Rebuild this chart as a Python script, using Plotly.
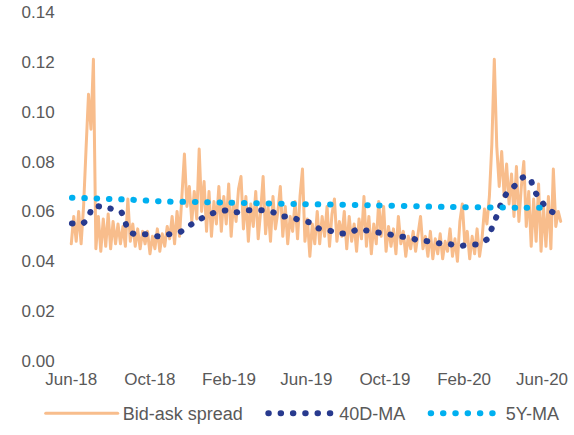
import pandas as pd
import plotly.graph_objects as go

# Bid-ask spread (daily, sampled evenly between start and end)
spread_start = "2018-06-01"
spread_end = "2020-06-30"
spread = [
    0.047, 0.058, 0.048, 0.060, 0.047, 0.062, 0.085, 0.107, 0.093, 0.121,
    0.045, 0.058, 0.044, 0.057, 0.046, 0.059, 0.045, 0.056, 0.047, 0.055,
    0.047, 0.054, 0.046, 0.065, 0.048, 0.055, 0.046, 0.053, 0.045, 0.052,
    0.047, 0.052, 0.043, 0.050, 0.045, 0.053, 0.044, 0.051, 0.046, 0.054,
    0.049, 0.058, 0.047, 0.060, 0.050, 0.066, 0.083, 0.062, 0.070, 0.056,
    0.068, 0.057, 0.085, 0.060, 0.072, 0.052, 0.068, 0.050, 0.064, 0.055,
    0.070, 0.052, 0.066, 0.055, 0.071, 0.050, 0.064, 0.056, 0.069, 0.074,
    0.053, 0.066, 0.048, 0.063, 0.054, 0.068, 0.049, 0.060, 0.074, 0.051,
    0.062, 0.048, 0.066, 0.053, 0.060, 0.070, 0.050, 0.062, 0.047, 0.058,
    0.052, 0.064, 0.049, 0.066, 0.077, 0.048, 0.057, 0.042, 0.055, 0.047,
    0.060, 0.047, 0.058, 0.050, 0.062, 0.046, 0.059, 0.065, 0.048, 0.056,
    0.050, 0.060, 0.045, 0.058, 0.048, 0.055, 0.044, 0.057, 0.049, 0.066,
    0.046, 0.058, 0.043, 0.055, 0.047, 0.064, 0.050, 0.062, 0.044, 0.054,
    0.046, 0.053, 0.043, 0.058, 0.047, 0.052, 0.042, 0.050, 0.045, 0.052,
    0.044, 0.051, 0.058, 0.045, 0.050, 0.042, 0.052, 0.041, 0.049, 0.043,
    0.051, 0.041, 0.048, 0.044, 0.053, 0.042, 0.049, 0.040, 0.056, 0.063,
    0.047, 0.052, 0.041, 0.050, 0.043, 0.053, 0.042, 0.049, 0.061, 0.055,
    0.066, 0.087, 0.121, 0.086, 0.070, 0.084, 0.066, 0.079, 0.063, 0.075,
    0.058, 0.078, 0.056, 0.070, 0.080, 0.054, 0.068, 0.046, 0.065, 0.048,
    0.071, 0.044, 0.062, 0.046, 0.066, 0.045, 0.077, 0.054, 0.060, 0.056,
]

# 40-day moving average
ma40_dates = [
    "2018-06-02", "2018-06-19", "2018-06-28", "2018-07-04", "2018-07-15",
    "2018-07-31", "2018-08-17", "2018-08-23", "2018-08-29", "2018-09-09",
    "2018-09-26", "2018-10-15", "2018-10-30", "2018-11-16", "2018-11-30",
    "2018-12-14", "2018-12-30", "2019-01-14", "2019-01-28", "2019-02-11",
    "2019-02-27", "2019-03-14", "2019-03-28", "2019-04-11", "2019-04-21",
    "2019-05-06", "2019-05-22", "2019-06-06", "2019-06-20", "2019-07-06",
    "2019-07-21", "2019-08-04", "2019-08-20", "2019-09-01", "2019-09-18",
    "2019-10-02", "2019-10-21", "2019-11-07", "2019-11-22", "2019-12-08",
    "2019-12-25", "2020-01-11", "2020-01-25", "2020-02-08", "2020-02-24",
    "2020-03-09", "2020-03-16", "2020-03-23", "2020-03-29", "2020-04-07",
    "2020-04-20", "2020-05-02", "2020-05-13", "2020-05-19", "2020-05-29",
    "2020-06-10", "2020-06-21", "2020-06-28",
]
ma40 = [
    0.0552, 0.0552, 0.0576, 0.0620, 0.0620,
    0.0612, 0.0600, 0.0564, 0.0520, 0.0508,
    0.0508, 0.0500, 0.0508, 0.0516, 0.0540,
    0.0564, 0.0584, 0.0600, 0.0604, 0.0596,
    0.0604, 0.0604, 0.0604, 0.0596, 0.0580,
    0.0580, 0.0564, 0.0556, 0.0532, 0.0524,
    0.0512, 0.0512, 0.0528, 0.0524, 0.0516,
    0.0512, 0.0500, 0.0496, 0.0484, 0.0480,
    0.0472, 0.0468, 0.0460, 0.0468, 0.0468,
    0.0492, 0.0540, 0.0584, 0.0628, 0.0672,
    0.0704, 0.0736, 0.0736, 0.0688, 0.0648,
    0.0608, 0.0592, 0.0580,
]

# 5-year moving average
ma5y_dates = [
    "2018-06-02", "2018-08-24", "2018-10-23", "2019-01-19", "2019-05-14",
    "2019-09-07", "2020-01-05", "2020-04-27", "2020-06-14",
]
ma5y = [0.0655, 0.0648, 0.0640, 0.0636, 0.0630, 0.0625, 0.0618, 0.0615, 0.0615]

tick_dates = ["2018-06-01", "2018-10-01", "2019-02-01", "2019-06-01",
              "2019-10-01", "2020-02-01", "2020-06-01"]
tick_text = ["Jun-18", "Oct-18", "Feb-19", "Jun-19", "Oct-19", "Feb-20", "Jun-20"]
y_ticks = [0.00, 0.02, 0.04, 0.06, 0.08, 0.10, 0.12, 0.14]

spread_dates = pd.date_range(spread_start, spread_end, periods=len(spread))

ORANGE = "#F8BD8C"
NAVY = "#283A8E"
CYAN = "#00B0F0"
GREY = "#595959"
FONT = "Liberation Sans, Arial, sans-serif"
DOTS = "0.5px,11.8px"

fig = go.Figure()
fig.add_trace(go.Scatter(
    x=spread_dates, y=spread, mode="lines", name="Bid-ask spread",
    line=dict(color=ORANGE, width=3), legend="legend",
))
fig.add_trace(go.Scatter(
    x=pd.to_datetime(ma40_dates), y=ma40, mode="lines", name="40D-MA",
    line=dict(color=NAVY, width=6, dash=DOTS, shape="spline", smoothing=0.6),
    legend="legend2",
))
fig.add_trace(go.Scatter(
    x=pd.to_datetime(ma5y_dates), y=ma5y, mode="lines", name="5Y-MA",
    line=dict(color=CYAN, width=6, dash=DOTS, shape="spline", smoothing=0.6),
    legend="legend3",
))

leg_common = dict(
    orientation="h", xanchor="left", xref="container", yref="container",
    y=0.0494, yanchor="middle",
    font=dict(size=18, color=GREY),
    bgcolor="rgba(0,0,0,0)", borderwidth=0,
)

fig.update_layout(
    width=574, height=435,
    margin=dict(l=62, r=8, t=12, b=74),
    paper_bgcolor="white", plot_bgcolor="white",
    font=dict(family=FONT, size=17, color=GREY),
    showlegend=True,
    legend=dict(x=0.0709, itemwidth=72, **leg_common),
    legend2=dict(x=0.4587, itemwidth=66, **leg_common),
    legend3=dict(x=0.7416, itemwidth=70, **leg_common),
    xaxis=dict(
        type="date", range=["2018-05-17 14:00", "2020-07-08 05:00"],
        tickmode="array", tickvals=tick_dates, ticktext=tick_text,
        showgrid=False, zeroline=False, showline=False,
        ticks="outside", ticklen=3, tickcolor="rgba(0,0,0,0)",
        tickfont=dict(size=17, color=GREY), automargin=False,
    ),
    yaxis=dict(
        range=[0, 0.14], tickmode="array", tickvals=y_ticks,
        tickformat=".2f", showgrid=False, zeroline=False, showline=False,
        ticks="outside", ticklen=3, tickcolor="rgba(0,0,0,0)",
        tickfont=dict(size=17, color=GREY), automargin=False,
    ),
)

post = """
document.body.style.margin='0';
function roundCaps(){
  document.querySelectorAll('.js-line').forEach(function(p){
    p.style.strokeLinecap='round'; p.style.strokeLinejoin='round';
  });
}
roundCaps();
var gd=document.getElementById('{plot_id}');
if(gd && gd.on){ gd.on('plotly_afterplot', roundCaps); }
"""
fig.write_html("out.html", post_script=post, config={"displayModeBar": False})
